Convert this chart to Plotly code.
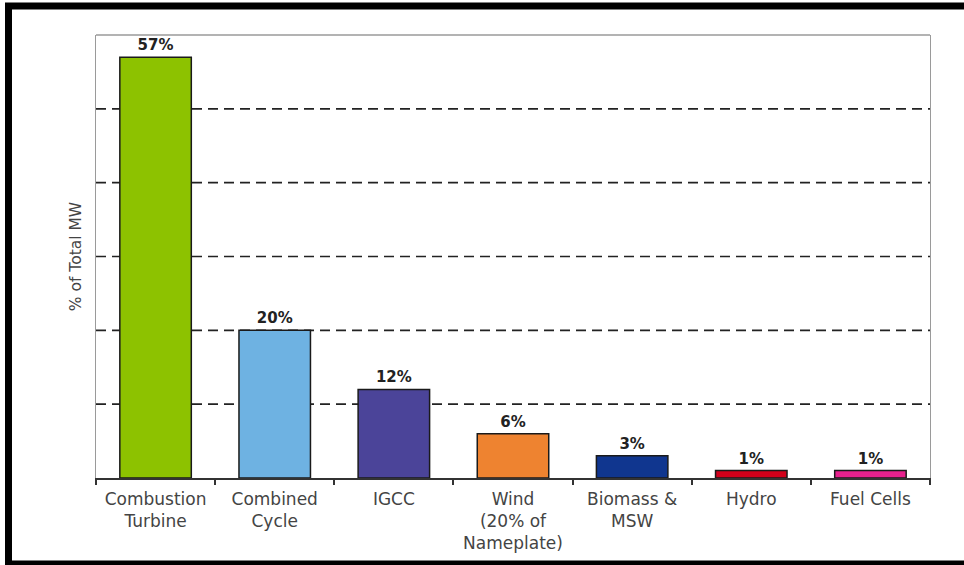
import plotly.graph_objects as go

categories = ["Combustion<br>Turbine", "Combined<br>Cycle", "IGCC",
              "Wind<br>(20% of<br>Nameplate)", "Biomass &<br>MSW", "Hydro", "Fuel Cells"]
values = [57, 20, 12, 6, 3, 1, 1]
labels = ["57%", "20%", "12%", "6%", "3%", "1%", "1%"]
colors = ["#8DC200", "#6EB2E2", "#4B4499", "#EE8330", "#10368F", "#D2001A", "#E8218E"]
grid_levels = [10, 20, 30, 40, 50]

W, H = 964, 565
L, R, T, B = 96, 34, 35, 87
pw, ph = W - L - R, H - T - B

def px(x):
    return (x - L) / pw

def py(y):
    return (H - B - y) / ph

fig = go.Figure()
fig.add_trace(go.Bar(
    x=categories, y=values, width=0.6,
    marker=dict(color=colors, line=dict(color="#1a1a1a", width=1.5)),
    text=labels, textposition="outside",
    textfont=dict(family="DejaVu Sans", size=15, color="#222222", weight="bold"),
    cliponaxis=False, hoverinfo="skip",
))

shapes = []
for g in grid_levels:
    shapes.append(dict(type="line", xref="paper", yref="y", x0=0, x1=1, y0=g, y1=g,
                       line=dict(color="#222222", width=1.6, dash="10px,6px"), layer="below"))
# outer thick frame
shapes.append(dict(type="rect", xref="paper", yref="paper",
                   x0=px(8.5), x1=px(990), y0=py(564), y1=py(6),
                   line=dict(color="#000000", width=7)))

fig.update_layout(
    width=W, height=H,
    margin=dict(l=L, r=R, t=T, b=B),
    paper_bgcolor="white", plot_bgcolor="white",
    showlegend=False, bargap=0.4,
    shapes=shapes,
    font=dict(family="DejaVu Sans", color="#444444"),
    xaxis=dict(
        showline=True, linecolor="#333333", linewidth=1.5, mirror=False,
        ticks="outside", ticklen=5, tickcolor="#333333", tickwidth=1.5,
        tickson="boundaries", showgrid=False, ticklabelstandoff=5,
        tickfont=dict(family="DejaVu Sans", size=17, color="#444444"),
        fixedrange=True,
    ),
    yaxis=dict(
        range=[0, 60], showgrid=False, zeroline=False,
        showline=True, linecolor="#9a9a9a", linewidth=1.3, mirror=True,
        showticklabels=False, ticks="",
        title=dict(text="% of Total MW", standoff=9,
                   font=dict(family="DejaVu Sans", size=15.5, color="#444444")),
        fixedrange=True,
    ),
)
# top border of plot area (gray)
fig.add_shape(type="line", xref="paper", yref="paper", x0=0, x1=1, y0=1, y1=1,
              line=dict(color="#9a9a9a", width=1.3))

fig.write_html("out.html")
